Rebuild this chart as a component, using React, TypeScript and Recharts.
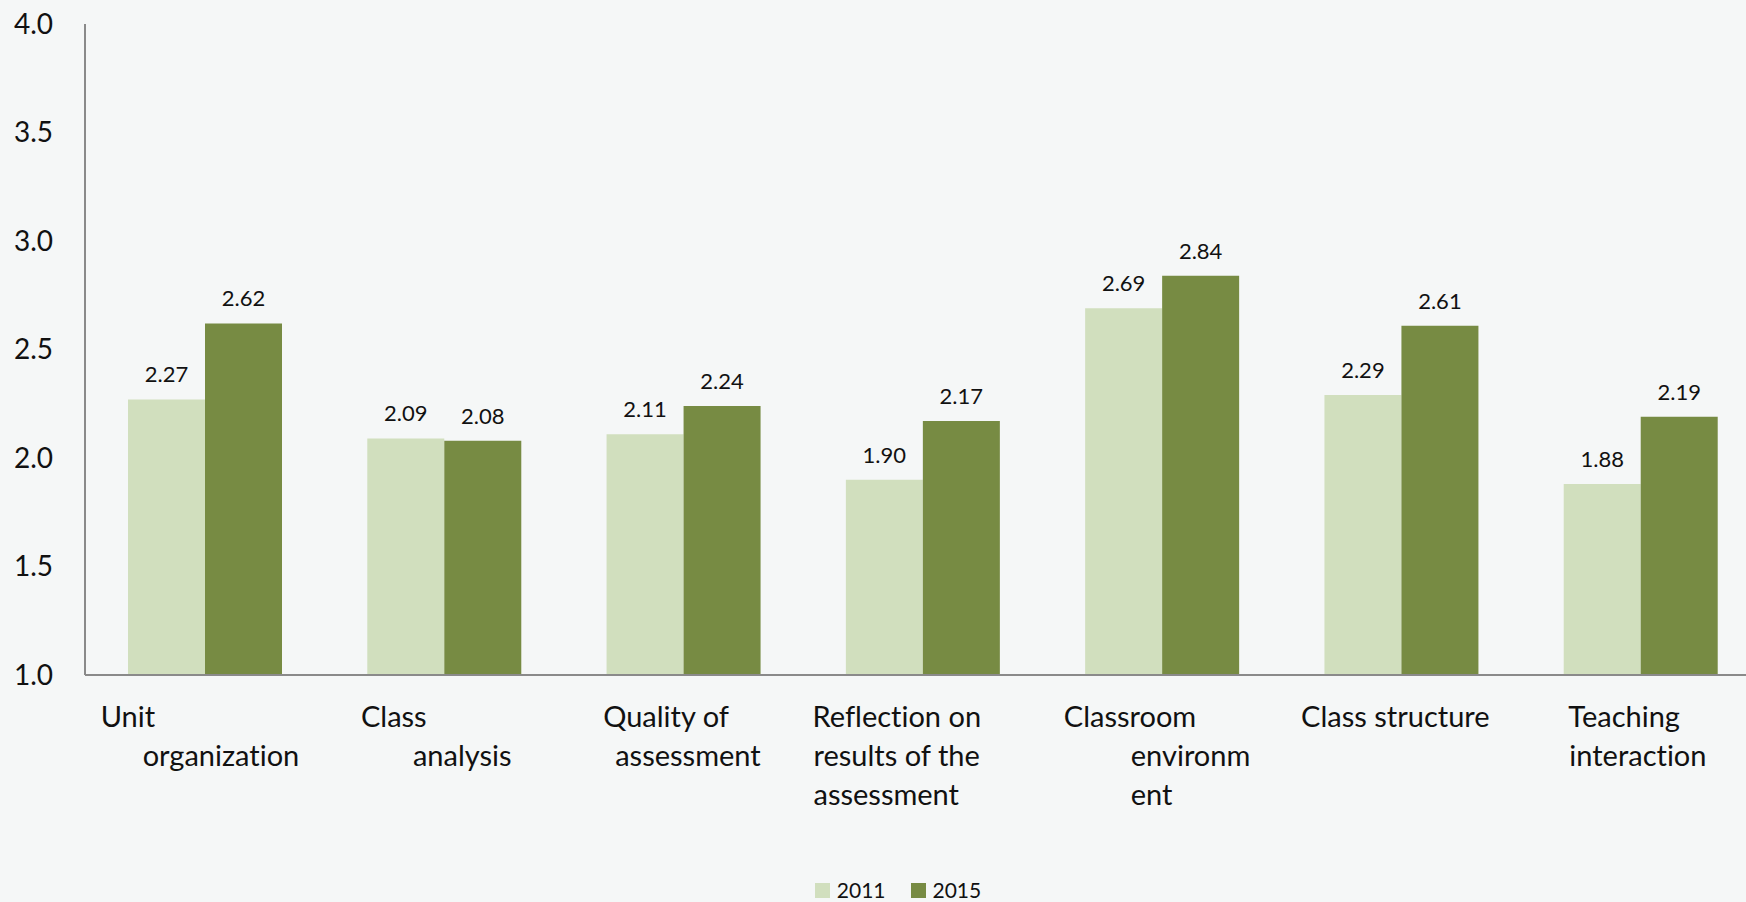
import React from "react";
import { BarChart, Bar, XAxis, YAxis, LabelList, Legend } from "recharts";

const categoryLines: string[][] = [
  ["Unit", "organization"],
  ["Class", "analysis"],
  ["Quality of", "assessment"],
  ["Reflection on", "results of the", "assessment"],
  ["Classroom", "environm", "ent"],
  ["Class structure"],
  ["Teaching", "interaction"],
];
const values2011 = [2.27, 2.09, 2.11, 1.9, 2.69, 2.29, 1.88];
const values2015 = [2.62, 2.08, 2.24, 2.17, 2.84, 2.61, 2.19];
const yTicks = [1, 1.5, 2, 2.5, 3, 3.5, 4];

// left edge of each label line, relative to the category centre (Excel-style wrapping)
const lineIndent: number[][] = [
  [-104, -62],
  [-83, -31],
  [-80, -68],
  [-110, -109, -109],
  [-98, -31, -31],
  [-100],
  [-72, -71],
];

const LIGHT = "#d1dfbe";
const DARK = "#778b43";
const FONT = "Lato, 'Open Sans', sans-serif";
const NO_LIGA = { fontVariantLigatures: "none" as const, fontFeatureSettings: "'liga' 0" };

const data = categoryLines.map((lines, i) => ({
  name: lines.join(" "),
  idx: i,
  y2011: values2011[i],
  y2015: values2015[i],
}));

function CategoryTick(props: any) {
  const { x, y, index } = props;
  const lines = categoryLines[index] || [];
  const indent = lineIndent[index] || [];
  return (
    <g>
      {lines.map((ln, k) => (
        <text
          key={k}
          x={x + (indent[k] ?? 0)}
          y={y + 52 + k * 39}
          textAnchor="start"
          fontFamily={FONT}
          fontSize={29}
          fill="#111"
          style={NO_LIGA}
        >
          {ln}
        </text>
      ))}
    </g>
  );
}

function LegendContent(props: any) {
  const items = props.payload || [];
  return (
    <div style={{ display: "flex", justifyContent: "center", alignItems: "center", fontFamily: FONT, fontSize: 21, color: "#111", lineHeight: "22px" }}>
      {items.map((it: any, i: number) => (
        <div key={i} style={{ display: "flex", alignItems: "center", marginRight: i < items.length - 1 ? 25 : 0 }}>
          <span style={{ width: 15, height: 15, background: it.color, display: "inline-block", marginRight: 7 }} />
          <span>{it.value}</span>
        </div>
      ))}
    </div>
  );
}

export default function App() {
  return (
    <div style={{ width: 1746, height: 902, overflow: "hidden", background: "#f5f7f7", position: "relative" }}>
      <style>{`html,body{margin:0;padding:0;overflow:hidden;}`}</style>
      <BarChart
        width={1796}
        height={902}
        data={data}
        margin={{ top: 24, right: 36, bottom: 0, left: 0 }}
        barGap={0}
      >
        <XAxis
          dataKey="name"
          height={227}
          interval={0}
          tickLine={false}
          tickSize={0}
          tickMargin={0}
          axisLine={{ stroke: "#8a8a8a", strokeWidth: 2 }}
          tick={<CategoryTick />}
        />
        <YAxis
          domain={[1, 4]}
          ticks={yTicks}
          width={85}
          tickLine={false}
          tickSize={0}
          tickMargin={32}
          allowDataOverflow
          axisLine={{ stroke: "#8a8a8a", strokeWidth: 2 }}
          tickFormatter={(v: number) => v.toFixed(1)}
          tick={{ fontFamily: FONT, fontSize: 28, fill: "#111" }}
        />
        <Legend
          verticalAlign="middle"
          align="center"
          layout="horizontal"
          wrapperStyle={{ top: 879, left: 0, width: 1796 }}
          content={<LegendContent />}
        />
        <Bar dataKey="y2011" name="2011" fill={LIGHT} barSize={77} isAnimationActive={false}>
          <LabelList
            dataKey="y2011"
            position="top"
            offset={17}
            formatter={(v: any) => Number(v).toFixed(2)}
            style={{ fontFamily: FONT, fontSize: 22, fill: "#111" }}
          />
        </Bar>
        <Bar dataKey="y2015" name="2015" fill={DARK} barSize={77} isAnimationActive={false}>
          <LabelList
            dataKey="y2015"
            position="top"
            offset={17}
            formatter={(v: any) => Number(v).toFixed(2)}
            style={{ fontFamily: FONT, fontSize: 22, fill: "#111" }}
          />
        </Bar>
      </BarChart>
    </div>
  );
}
